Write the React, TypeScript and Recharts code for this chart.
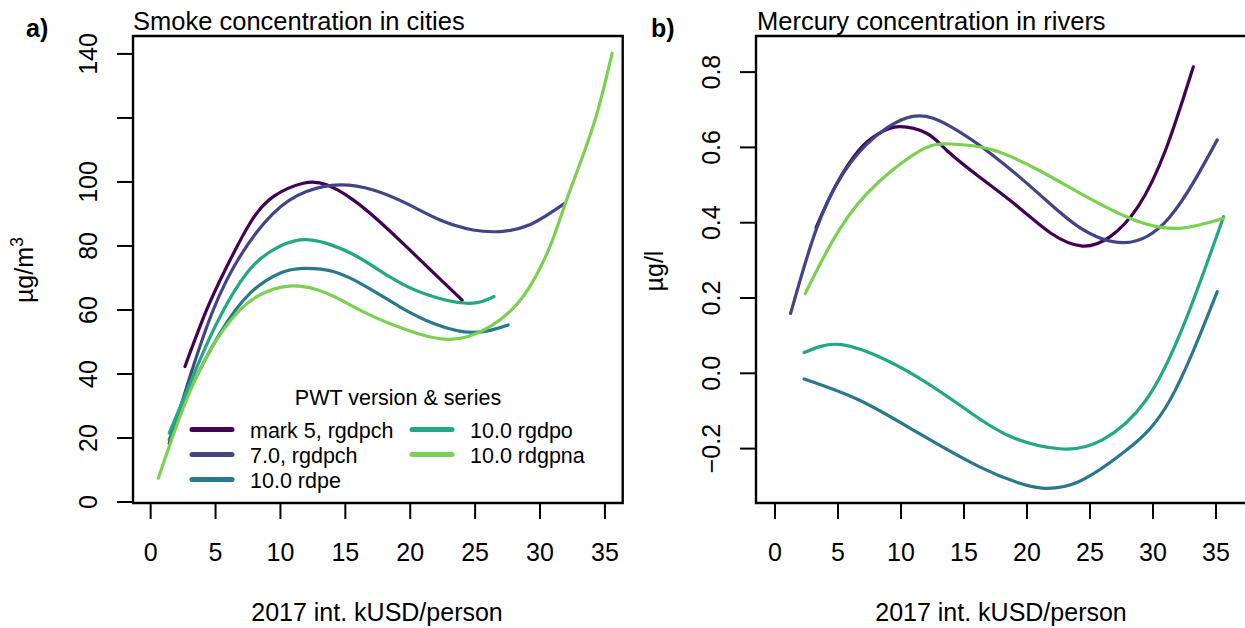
import React from "react";
import { LineChart, Line, XAxis, YAxis, ReferenceArea } from "recharts";

// viridis(6) minus the yellow
const COLORS = ["#440154", "#414487", "#2A788E", "#22A884", "#7AD151"];
const SERIES_NAMES = ["mark 5, rgdpch", "7.0, rgdpch", "10.0 rdpe", "10.0 rgdpo", "10.0 rdgpna"];

const X_TICKS = [0, 5, 10, 15, 20, 25, 30, 35];
const SMOKE_TICKS = [0, 20, 40, 60, 80, 100, 120, 140];
const SMOKE_LABELED = [0, 20, 40, 60, 80, 100, 140];
const MERCURY_TICKS = [-0.2, 0, 0.2, 0.4, 0.6, 0.8];

// a) smoke, [kUSD/person, µg/m3]
const SMOKE_MARK5 = [[2.64, 42.3], [4.31, 60], [5.86, 73.5], [7.65, 87.1], [9.45, 95.4], [11.76, 99.6], [13.56, 99.1], [15.6, 94.4], [17.67, 87.5], [19.7, 79.8], [21.8, 71.6], [24.0, 63.1]];
const SMOKE_PWT7 = [[1.43, 18.3], [3.03, 39.2], [4.82, 60], [6.88, 76.7], [9.45, 90.2], [12.0, 97.0], [14.6, 99.1], [17.15, 97.5], [19.7, 93.3], [22.3, 88.1], [24.85, 85], [26.9, 84.5], [29.2, 86.6], [31.9, 93.3]];
const SMOKE_RDPE = [[1.43, 19.4], [3.03, 35], [5.34, 52.7], [7.65, 65.2], [9.96, 71.5], [11.76, 73], [14.07, 72], [16.6, 67.3], [19.2, 61], [21.8, 55.8], [24.85, 53], [27.55, 55.3]];
const SMOKE_RGDPO = [[1.43, 21.5], [3.03, 37.1], [5.08, 55.8], [7.4, 71.5], [9.45, 78.8], [11.5, 81.9], [13.56, 80.8], [15.9, 76.7], [18.4, 70.4], [21.0, 65.2], [24.35, 62.1], [26.45, 64.2]];
const SMOKE_RDGPNA = [[0.59, 7.4], [2.26, 26.7], [4.31, 45.4], [6.88, 60], [8.94, 65.7], [10.99, 67.5], [13.56, 65.2], [16.6, 59], [19.7, 53.8], [23.06, 50.8], [26.14, 54.8], [28.7, 64.2], [30.76, 79.8], [32.1, 95], [34.08, 117.3], [35.55, 140.2]];

// b) mercury, [kUSD/person, µg/l]
const HG_MARK5 = [[3.26, 0.387], [4.78, 0.496], [6.67, 0.593], [8.25, 0.637], [9.84, 0.655], [12.06, 0.637], [13.6, 0.593], [16.2, 0.522], [19.3, 0.442], [21.9, 0.372], [24.4, 0.338], [26.6, 0.363], [28.8, 0.442], [31.0, 0.593], [33.2, 0.814]];
const HG_PWT7 = [[1.24, 0.159], [3.26, 0.381], [5.41, 0.531], [7.94, 0.628], [11.1, 0.683], [13.95, 0.655], [17.1, 0.584], [20.9, 0.478], [24.1, 0.389], [27.7, 0.347], [31.35, 0.416], [35.1, 0.62]];
const HG_RDPE = [[2.31, -0.015], [6.67, -0.071], [11.4, -0.159], [16.2, -0.248], [19.3, -0.291], [21.2, -0.305], [24.1, -0.288], [27.9, -0.204], [31.35, -0.071], [35.1, 0.217]];
const HG_RGDPO = [[2.31, 0.055], [4.94, 0.077], [8.26, 0.044], [11.7, -0.018], [15.2, -0.097], [18.7, -0.168], [22.8, -0.201], [25.98, -0.177], [29.45, -0.071], [32.6, 0.142], [35.6, 0.416]];
const HG_RDGPNA = [[2.4, 0.212], [4.46, 0.345], [7.31, 0.478], [11.4, 0.589], [13.95, 0.609], [17.1, 0.595], [20.9, 0.54], [24.7, 0.469], [28.5, 0.407], [32.0, 0.385], [35.6, 0.412]];

const FONT = "'Liberation Sans', Arial, Helvetica, sans-serif";

const toPoints = (arr: number[][]) => arr.map(([x, y]) => ({ x, y }));

const XTick = ({ x, y, payload }: any) => (
  <text x={x} y={y + 42} textAnchor="middle" fontSize={25} fontFamily={FONT} fill="#000">
    {payload.value}
  </text>
);

const makeYTick = (labeled: number[] | null, fmt: (v: number) => string) => ({ x, y, payload }: any) => {
  const v = payload.value;
  if (labeled && !labeled.includes(v)) return <g />;
  return (
    <text
      x={x - 20}
      y={y}
      transform={`rotate(-90, ${x - 20}, ${y})`}
      textAnchor="middle"
      fontSize={25}
      fontFamily={FONT}
      fill="#000"
    >
      {fmt(v)}
    </text>
  );
};

const fmtHg = (v: number) => (v < 0 ? "\u2212" + Math.abs(v).toFixed(1) : v.toFixed(1));

interface PanelProps {
  left: number;
  width: number;
  yWidth: number;
  marginRight: number;
  xDomain: [number, number];
  yDomain: [number, number];
  yTicks: number[];
  yTick: any;
  series: number[][][];
}

function Panel({ left, width, yWidth, marginRight, xDomain, yDomain, yTicks, yTick, series }: PanelProps) {
  return (
    <div style={{ position: "absolute", left, top: 0 }}>
      <LineChart width={width} height={628} margin={{ top: 36, right: marginRight, left: 0, bottom: 0 }}>
        <XAxis
          type="number"
          dataKey="x"
          domain={xDomain}
          ticks={X_TICKS}
          interval={0}
          allowDataOverflow
          axisLine={false}
          tickSize={16}
          tickMargin={0}
          tickLine={{ stroke: "#000", strokeWidth: 2 }}
          height={125}
          tick={<XTick />}
        />
        <YAxis
          type="number"
          dataKey="y"
          domain={yDomain}
          ticks={yTicks}
          interval={0}
          allowDataOverflow
          axisLine={false}
          tickSize={16}
          tickMargin={0}
          tickLine={{ stroke: "#000", strokeWidth: 2 }}
          width={yWidth}
          tick={yTick}
        />
        <ReferenceArea
          x1={xDomain[0]}
          x2={xDomain[1]}
          y1={yDomain[0]}
          y2={yDomain[1]}
          fill="none"
          stroke="#000"
          strokeWidth={2.4}
          ifOverflow="visible"
        />
        {series.map((pts, i) => (
          <Line
            key={SERIES_NAMES[i]}
            data={toPoints(pts)}
            dataKey="y"
            type="natural"
            stroke={COLORS[i]}
            strokeWidth={3.2}
            strokeLinecap="round"
            dot={false}
            activeDot={false}
            isAnimationActive={false}
          />
        ))}
      </LineChart>
    </div>
  );
}

function Annotations() {
  const legendRows = [
    { col: 0, row: 0, i: 0 },
    { col: 0, row: 1, i: 1 },
    { col: 0, row: 2, i: 2 },
    { col: 1, row: 0, i: 3 },
    { col: 1, row: 1, i: 4 },
  ];
  return (
    <svg width={1245} height={628} style={{ position: "absolute", left: 0, top: 0, pointerEvents: "none" }} fontFamily={FONT}>
      <text x={26} y={37} fontSize={25} fontWeight="bold">a)</text>
      <text x={651} y={37} fontSize={25} fontWeight="bold">b)</text>
      <text x={133} y={30} fontSize={25.5}>Smoke concentration in cities</text>
      <text x={757} y={30} fontSize={25.5}>Mercury concentration in rivers</text>

      <text x={33} y={270} fontSize={25} textAnchor="middle" transform="rotate(-90, 33, 270)">
        µg/m<tspan fontSize={18} dy={-10}>3</tspan>
      </text>
      <text x={663} y={271} fontSize={25} textAnchor="middle" transform="rotate(-90, 663, 271)">µg/l</text>

      <text x={377} y={621} fontSize={25} textAnchor="middle">2017 int. kUSD/person</text>
      <text x={1001} y={621} fontSize={25} textAnchor="middle">2017 int. kUSD/person</text>

      <text x={398} y={405} fontSize={21.5} textAnchor="middle">PWT version &amp; series</text>
      {legendRows.map(({ col, row, i }) => {
        const lx = col === 0 ? 192 : 412;
        const ly = 429.5 + row * 25;
        return (
          <g key={i}>
            <line x1={lx} x2={lx + 40} y1={ly} y2={ly} stroke={COLORS[i]} strokeWidth={5} strokeLinecap="round" />
            <text x={lx + 58} y={ly + 8} fontSize={21.5}>{SERIES_NAMES[i]}</text>
          </g>
        );
      })}
    </svg>
  );
}

export default function App() {
  return (
    <div style={{ position: "absolute", left: 0, top: 0, width: 1245, height: 628, overflow: "hidden", background: "#fff", fontFamily: FONT }}>
      <Panel
        left={0}
        width={640}
        yWidth={133}
        marginRight={17.3}
        xDomain={[-1.36, 36.37]}
        yDomain={[-0.31, 145.6]}
        yTicks={SMOKE_TICKS}
        yTick={makeYTick(SMOKE_LABELED, (v) => String(v))}
        series={[SMOKE_MARK5, SMOKE_PWT7, SMOKE_RDPE, SMOKE_RGDPO, SMOKE_RDGPNA]}
      />
      <Panel
        left={640}
        width={620}
        yWidth={116}
        marginRight={12}
        xDomain={[-1.508, 37.54]}
        yDomain={[-0.3445, 0.8959]}
        yTicks={MERCURY_TICKS}
        yTick={makeYTick(null, fmtHg)}
        series={[HG_MARK5, HG_PWT7, HG_RDPE, HG_RGDPO, HG_RDGPNA]}
      />
      <Annotations />
    </div>
  );
}
